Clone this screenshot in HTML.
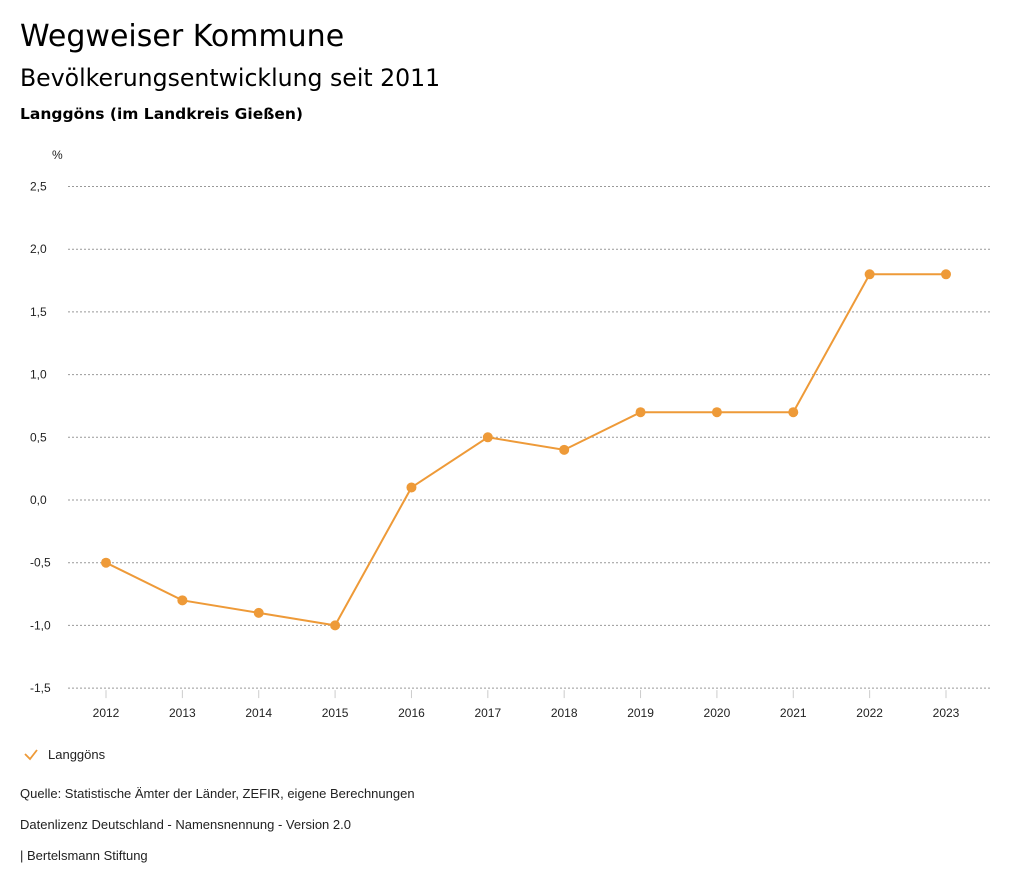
<!DOCTYPE html>
<html><head><meta charset="utf-8"><style>
body{margin:0;background:#fff;font-family:"Liberation Sans",sans-serif;color:#000}
.t1{position:absolute;left:20px;top:19px;font-size:30px;font-family:"DejaVu Sans",sans-serif}
.t2{position:absolute;left:20px;top:64px;font-size:23.6px;font-family:"DejaVu Sans",sans-serif}
.t3{position:absolute;left:20px;top:105px;font-size:15.5px;font-weight:bold;font-family:"DejaVu Sans",sans-serif}
.f{position:absolute;left:20px;font-size:13px;color:#222}
</style></head><body>
<div class="t1">Wegweiser Kommune</div>
<div class="t2">Bevölkerungsentwicklung seit 2011</div>
<div class="t3">Langgöns (im Landkreis Gießen)</div>
<svg id="c" width="1024" height="888" style="position:absolute;left:0;top:0"></svg>
<div class="f" style="top:786px">Quelle: Statistische Ämter der Länder, ZEFIR, eigene Berechnungen</div>
<div class="f" style="top:817px">Datenlizenz Deutschland - Namensnennung - Version 2.0</div>
<div class="f" style="top:848px">| Bertelsmann Stiftung</div>
<script>
const years=["2012","2013","2014","2015","2016","2017","2018","2019","2020","2021","2022","2023"];
const values=[-0.5,-0.8,-0.9,-1.0,0.1,0.5,0.4,0.7,0.7,0.7,1.8,1.8];
const yTicks=[2.5,2.0,1.5,1.0,0.5,0.0,-0.5,-1.0,-1.5];
const NS="http://www.w3.org/2000/svg",svg=document.getElementById('c');
const X=i=>106+i*(946-106)/11, Y=v=>500-v*125.4;
function mk(t,a,p){const e=document.createElementNS(NS,t);for(const k in a)e.setAttribute(k,a[k]);(p||svg).appendChild(e);return e;}
const lbl=mk('text',{x:52,y:159,'font-size':12,fill:'#222'});lbl.textContent='%';


yTicks.forEach(v=>{
 const l=mk('line',{x1:68,x2:990,y1:Y(v),y2:Y(v),stroke:'#999','stroke-dasharray':'2,2','stroke-width':1});
 
 
 const t=mk('text',{x:30,y:Y(v)+4,'font-size':12,fill:'#222'});t.textContent=v.toFixed(1).replace('.',',');
 
 
});
years.forEach((y,i)=>{
 mk('line',{x1:X(i),x2:X(i),y1:Y(-1.5)+2,y2:Y(-1.5)+10,stroke:'#ccc'});
 const t=mk('text',{x:X(i),y:Y(-1.5)+29,'font-size':12,fill:'#222','text-anchor':'middle'});t.textContent=y;
 
 
});
const pl=mk('polyline',{points:values.map((v,i)=>X(i)+','+Y(v)).join(' '),fill:'none',stroke:'#ee9a38','stroke-width':2});


values.forEach((v,i)=>{const c=mk('circle',{cx:X(i),cy:Y(v),r:5,fill:'#ee9a38'});
 
 });
const lg=mk('g',{});


mk('path',{d:'M25 754 L30 759 L37 750',fill:'none',stroke:'#ee9a38','stroke-width':1.8},lg);
const lt=mk('text',{x:48,y:759,'font-size':13,fill:'#222'},lg);lt.textContent='Langgöns';
</script>
</body></html>
